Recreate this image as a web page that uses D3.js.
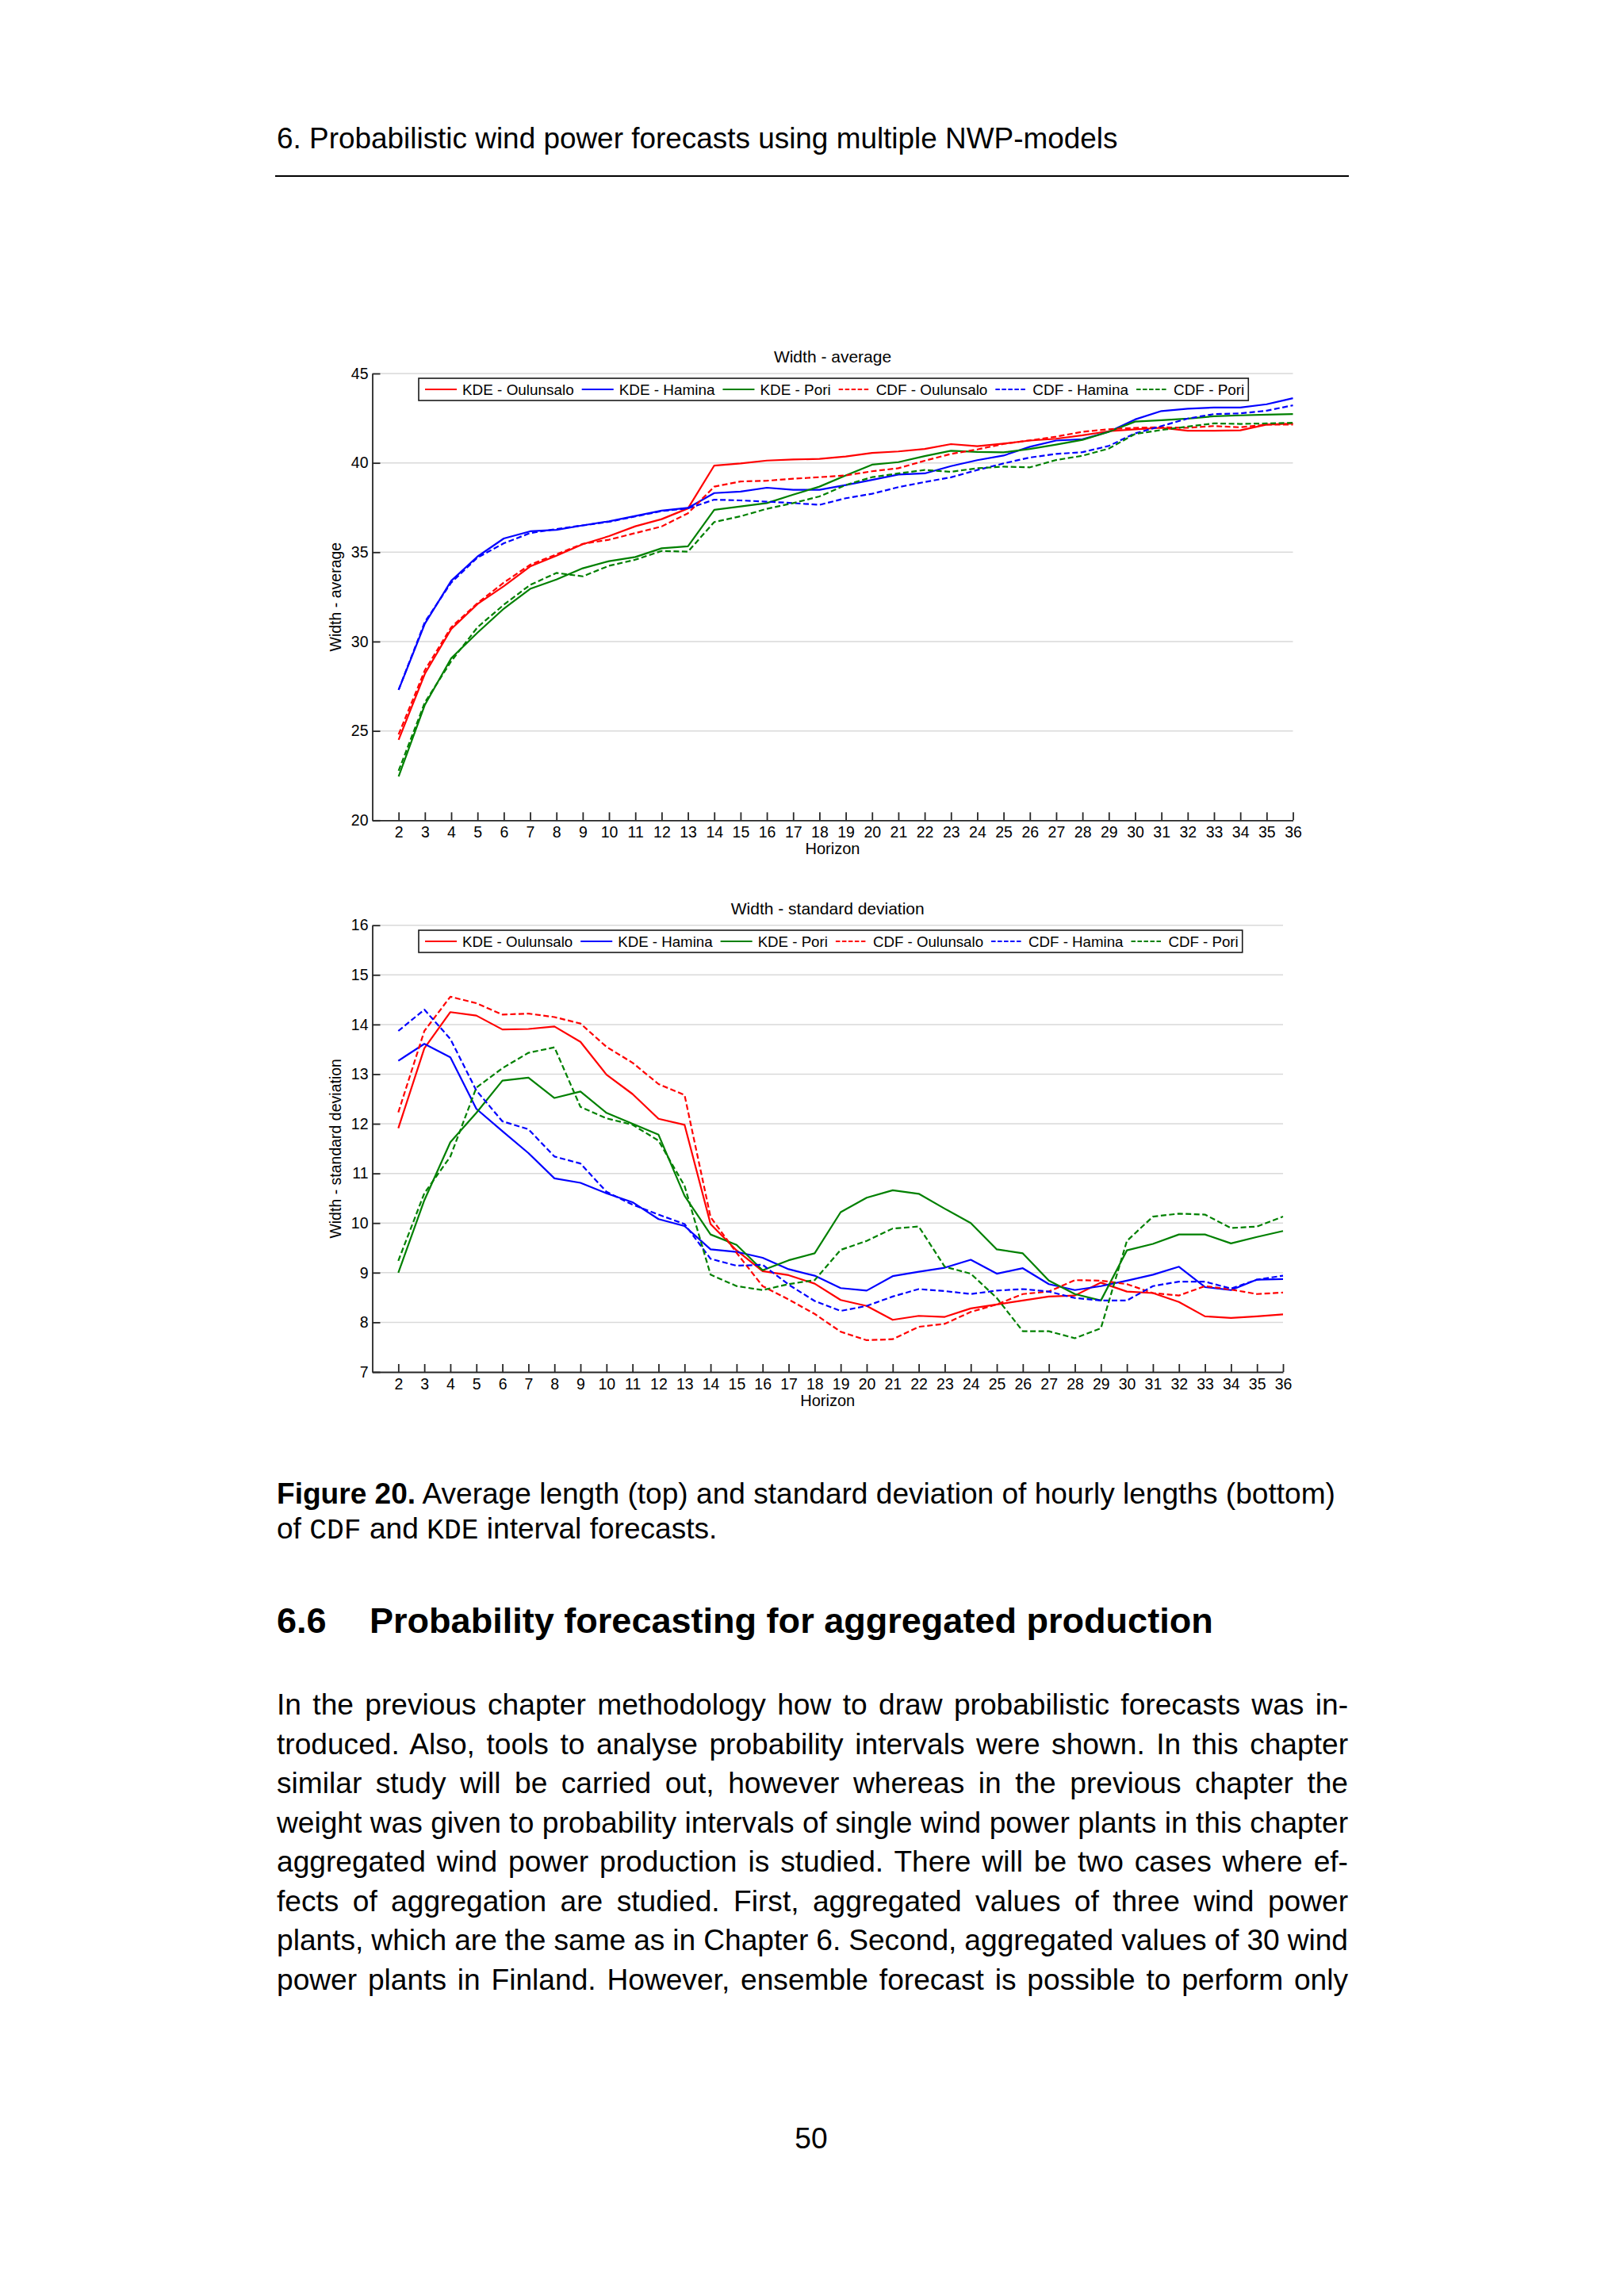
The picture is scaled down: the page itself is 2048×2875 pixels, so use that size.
<!DOCTYPE html>
<html>
<head>
<meta charset="utf-8">
<script src="https://cdn.jsdelivr.net/npm/d3@7/dist/d3.min.js"></script>
<style>
  body { margin: 0; background: #fff; }
  svg { display: block; font-family: "Liberation Sans", Arial, sans-serif; }
</style>
</head>
<body>
<div id="page"></div>
<script>
// ---- data ----
var horizons = [2,3,4,5,6,7,8,9,10,11,12,13,14,15,16,17,18,19,20,21,22,23,24,25,26,27,28,29,30,31,32,33,34,35,36];

var seriesNames  = ['KDE - Oulunsalo', 'KDE - Hamina', 'KDE - Pori', 'CDF - Oulunsalo', 'CDF - Hamina', 'CDF - Pori'];

// Width - average
var avgKdeOulunsalo = [24.5,28.2,30.7,32.1,33.1,34.2,34.8,35.45,35.9,36.45,36.85,37.45,39.85,39.97,40.13,40.19,40.22,40.36,40.56,40.64,40.78,41.05,40.93,41.08,41.25,41.35,41.54,41.77,41.88,41.96,41.8,41.8,41.82,42.14,42.2];
var avgKdeHamina    = [27.3,31.0,33.4,34.76,35.77,36.17,36.25,36.5,36.73,37.03,37.33,37.48,38.31,38.39,38.61,38.49,38.49,38.76,39.05,39.35,39.41,39.82,40.15,40.41,40.9,41.25,41.32,41.74,42.43,42.9,43.03,43.1,43.1,43.28,43.62];
var avgKdePori      = [22.45,26.46,29.07,30.5,31.84,32.95,33.47,34.1,34.5,34.73,35.22,35.33,37.37,37.56,37.75,38.22,38.67,39.3,39.9,40.04,40.38,40.68,40.61,40.59,40.78,41.02,41.29,41.74,42.31,42.39,42.48,42.61,42.66,42.7,42.73];
var avgCdfOulunsalo = [24.8,28.4,30.8,32.15,33.3,34.3,34.88,35.47,35.7,36.07,36.44,37.18,38.67,38.96,39.0,39.11,39.2,39.3,39.53,39.7,40.12,40.5,40.75,41.06,41.26,41.47,41.74,41.88,41.96,41.99,41.96,42.06,41.99,42.14,42.14];
var avgCdfHamina    = [27.3,31.1,33.3,34.7,35.5,36.07,36.3,36.5,36.7,37.0,37.3,37.45,37.94,37.9,37.83,37.75,37.65,38.02,38.27,38.64,38.93,39.19,39.6,39.97,40.3,40.5,40.6,40.95,41.65,42.06,42.48,42.73,42.77,42.92,43.22];
var avgCdfPori      = [22.77,26.6,28.9,30.8,32.06,33.17,33.84,33.65,34.24,34.58,35.07,35.03,36.69,37.01,37.43,37.75,38.12,38.76,39.2,39.41,39.6,39.5,39.7,39.79,39.75,40.16,40.4,40.8,41.62,41.84,42.03,42.21,42.18,42.21,42.24];

// Width - standard deviation
var sdKdeOulunsalo = [11.91,13.52,14.25,14.18,13.9,13.91,13.96,13.65,12.99,12.6,12.1,11.98,9.98,9.45,9.03,8.95,8.78,8.45,8.33,8.05,8.13,8.11,8.28,8.36,8.44,8.52,8.54,8.8,8.62,8.59,8.41,8.12,8.09,8.12,8.16];
var sdKdeHamina    = [13.27,13.61,13.34,12.3,11.85,11.41,10.9,10.81,10.6,10.42,10.08,9.94,9.47,9.42,9.3,9.07,8.94,8.69,8.64,8.93,9.02,9.1,9.26,8.98,9.09,8.77,8.65,8.73,8.84,8.96,9.12,8.71,8.65,8.86,8.87];
var sdKdePori      = [9.0,10.46,11.63,12.22,12.87,12.93,12.52,12.65,12.22,12.0,11.78,10.55,9.77,9.56,9.05,9.25,9.39,10.22,10.51,10.66,10.59,10.29,10.0,9.47,9.39,8.84,8.57,8.44,9.45,9.58,9.77,9.77,9.59,9.72,9.84];
var sdCdfOulunsalo = [12.23,13.87,14.56,14.43,14.2,14.22,14.15,14.02,13.55,13.23,12.8,12.58,10.12,9.4,8.73,8.46,8.17,7.81,7.64,7.66,7.91,7.97,8.21,8.36,8.57,8.62,8.85,8.84,8.77,8.59,8.54,8.73,8.66,8.57,8.6];
var sdCdfHamina    = [13.87,14.3,13.71,12.67,12.05,11.89,11.34,11.2,10.63,10.37,10.17,9.98,9.28,9.14,9.16,8.76,8.43,8.23,8.33,8.52,8.67,8.63,8.57,8.64,8.67,8.62,8.49,8.44,8.44,8.73,8.82,8.82,8.68,8.86,8.94];
var sdCdfPori      = [9.24,10.6,11.34,12.73,13.12,13.43,13.54,12.34,12.11,11.98,11.66,10.75,8.96,8.73,8.65,8.77,8.85,9.46,9.64,9.89,9.93,9.12,8.98,8.49,7.82,7.82,7.68,7.88,9.64,10.13,10.19,10.17,9.9,9.93,10.13];

var avgTicks = [20,25,30,35,40,45];
var sdTicks  = [7,8,9,10,11,12,13,14,15,16];

var paragraph = [
  'In the previous chapter methodology how to draw probabilistic forecasts was in-',
  'troduced. Also, tools to analyse probability intervals were shown. In this chapter',
  'similar study will be carried out, however whereas in the previous chapter the',
  'weight was given to probability intervals of single wind power plants in this chapter',
  'aggregated wind power production is studied. There will be two cases where ef-',
  'fects of aggregation are studied. First, aggregated values of three wind power',
  'plants, which are the same as in Chapter 6. Second, aggregated values of 30 wind',
  'power plants in Finland. However, ensemble forecast is possible to perform only'
];

// ---- styles ----
var seriesColors = ['#ff0000', '#0000ff', '#008000', '#ff0000', '#0000ff', '#008000'];
var seriesDashed = [false, false, false, true, true, true];

var svg = d3.select('#page')
            .append('svg')
            .attr('width', 2048)
            .attr('height', 2875);

svg.append('rect').attr('width', 2048).attr('height', 2875).attr('fill', '#fff');

function drawChart(opt) {
  var g = svg.append('g');
  var x = d3.scaleLinear().domain([1, 36]).range([opt.left, opt.right]),
      y = d3.scaleLinear().domain(opt.yDomain).range([opt.bottom, opt.top]);

  // gridlines
  g.append('g')
   .selectAll('line')
   .data(opt.yTicks.filter(function(d) { return d !== opt.yDomain[0]; }))
   .enter()
     .append('line')
     .attr('x1', opt.left + 1).attr('x2', opt.right)
     .attr('y1', y).attr('y2', y)
     .attr('stroke', '#d9d9d9')
     .attr('stroke-width', 1.5);

  // axes
  var xa = g.append('g')
            .attr('transform', 'translate(0,' + opt.bottom + ')')
            .call(d3.axisBottom(x).tickValues(horizons).tickSizeInner(-10).tickSizeOuter(0).tickPadding(8));
  var ya = g.append('g')
            .attr('transform', 'translate(' + opt.left + ',0)')
            .call(d3.axisLeft(y).tickValues(opt.yTicks).tickSizeInner(-10).tickSizeOuter(0).tickPadding(5).tickFormat(d3.format('d')));
  [xa, ya].forEach(function(a) {
    a.attr('font-family', null).attr('font-size', 19.5);
    a.selectAll('path, line').attr('stroke', '#262626').attr('stroke-width', 1.8);
    a.selectAll('text').attr('fill', '#000');
  });

  // series
  var line = d3.line()
               .x(function(d, i) { return x(horizons[i]); })
               .y(function(d) { return y(d); });
  opt.series.forEach(function(s, i) {
    g.append('path')
     .datum(s)
     .attr('d', line)
     .attr('fill', 'none')
     .attr('stroke', seriesColors[i])
     .attr('stroke-width', 2.2)
     .attr('stroke-linejoin', 'round')
     .attr('stroke-dasharray', seriesDashed[i] ? '7,3.5' : null);
  });

  // legend
  var lg = g.append('g'),
      lx = opt.legendLeft + 8,
      ly = opt.legendTop + 14;
  var box = lg.append('rect')
              .attr('x', opt.legendLeft).attr('y', opt.legendTop)
              .attr('height', 28)
              .attr('fill', '#fff').attr('stroke', '#1a1a1a').attr('stroke-width', 1.6);
  seriesNames.forEach(function(name, i) {
    lg.append('line')
      .attr('x1', lx).attr('x2', lx + 40)
      .attr('y1', ly).attr('y2', ly)
      .attr('stroke', seriesColors[i]).attr('stroke-width', 2)
      .attr('stroke-dasharray', seriesDashed[i] ? '5.5,2.5' : null);
    var t = lg.append('text')
              .attr('x', lx + 47).attr('y', ly + 6.8)
              .attr('font-size', opt.legendFont)
              .text(name);
    lx += 47 + t.node().getComputedTextLength() + (i < seriesNames.length - 1 ? 10 : 5);
  });
  box.attr('width', lx - opt.legendLeft);

  // titles
  var cx = (opt.left + opt.right) / 2;
  g.append('text').attr('x', cx).attr('y', opt.top - 14)
   .attr('text-anchor', 'middle').attr('font-size', 21).text(opt.title);
  g.append('text').attr('x', cx).attr('y', opt.bottom + 42.5)
   .attr('text-anchor', 'middle').attr('font-size', 20).text('Horizon');
  g.append('text')
   .attr('transform', 'translate(430,' + (opt.top + opt.bottom) / 2 + ') rotate(-90)')
   .attr('text-anchor', 'middle').attr('font-size', 19.5).text(opt.yLabel);
}

drawChart({
  title: 'Width - average', yLabel: 'Width - average',
  left: 469.5, right: 1630.5, top: 471, bottom: 1034.3,
  yDomain: [20, 45], yTicks: avgTicks,
  legendLeft: 528, legendTop: 477, legendFont: 18.9,
  series: [avgKdeOulunsalo, avgKdeHamina, avgKdePori, avgCdfOulunsalo, avgCdfHamina, avgCdfPori]
});

drawChart({
  title: 'Width - standard deviation', yLabel: 'Width - standard deviation',
  left: 469.5, right: 1618, top: 1166.7, bottom: 1730,
  yDomain: [7, 16], yTicks: sdTicks,
  legendLeft: 528, legendTop: 1173, legendFont: 18.7,
  series: [sdKdeOulunsalo, sdKdeHamina, sdKdePori, sdCdfOulunsalo, sdCdfHamina, sdCdfPori]
});

// ---- page text ----
function fitSize(sel, width) {
  sel.attr('font-size', 100);
  var w = sel.node().getComputedTextLength();
  var fs = 100 * width / w;
  sel.attr('font-size', fs);
  return fs;
}

var header = svg.append('text').attr('x', 349).attr('y', 187)
                .text('6. Probabilistic wind power forecasts using multiple NWP-models');
fitSize(header, 1061);
svg.append('line').attr('x1', 347).attr('x2', 1701).attr('y1', 222).attr('y2', 222)
   .attr('stroke', '#000').attr('stroke-width', 2.2);

// caption
var cap1 = svg.append('text').attr('x', 349).attr('y', 1896);
cap1.append('tspan').attr('font-weight', 'bold').text('Figure 20.');
cap1.append('tspan').text(' Average length (top) and standard deviation of hourly lengths (bottom)');
var capFs = fitSize(cap1, 1335);
var cap2 = svg.append('text').attr('x', 349).attr('y', 1940).attr('font-size', capFs);
cap2.append('tspan').text('of ');
cap2.append('tspan').attr('font-family', '"Liberation Mono", "Courier New", monospace').attr('font-size', capFs * 0.98).text('CDF');
cap2.append('tspan').text(' and ');
cap2.append('tspan').attr('font-family', '"Liberation Mono", "Courier New", monospace').attr('font-size', capFs * 0.98).text('KDE');
cap2.append('tspan').text(' interval forecasts.');

// heading
var hNum = svg.append('text').attr('x', 349).attr('y', 2059).attr('font-weight', 'bold').text('6.6');
var hTxt = svg.append('text').attr('x', 466).attr('y', 2059).attr('font-weight', 'bold')
              .text('Probability forecasting for aggregated production');
var hFs = fitSize(hTxt, 1064);
hNum.attr('font-size', hFs);

// paragraph, justified
var probe = svg.append('text').attr('font-size', 100).text(paragraph[3]);
var pFs = 100 * 1350 / probe.node().getComputedTextLength();
probe.remove();
paragraph.forEach(function(l, i) {
  var t = svg.append('text')
             .attr('x', 349).attr('y', 2162 + i * 49.5)
             .attr('font-size', pFs)
             .text(l);
  var w = t.node().getComputedTextLength(),
      n = l.split(' ').length - 1;
  t.style('word-spacing', ((1351 - w) / n) + 'px');
});

svg.append('text').attr('x', 1023).attr('y', 2709)
   .attr('text-anchor', 'middle').attr('font-size', pFs).text('50');
</script>
</body>
</html>
